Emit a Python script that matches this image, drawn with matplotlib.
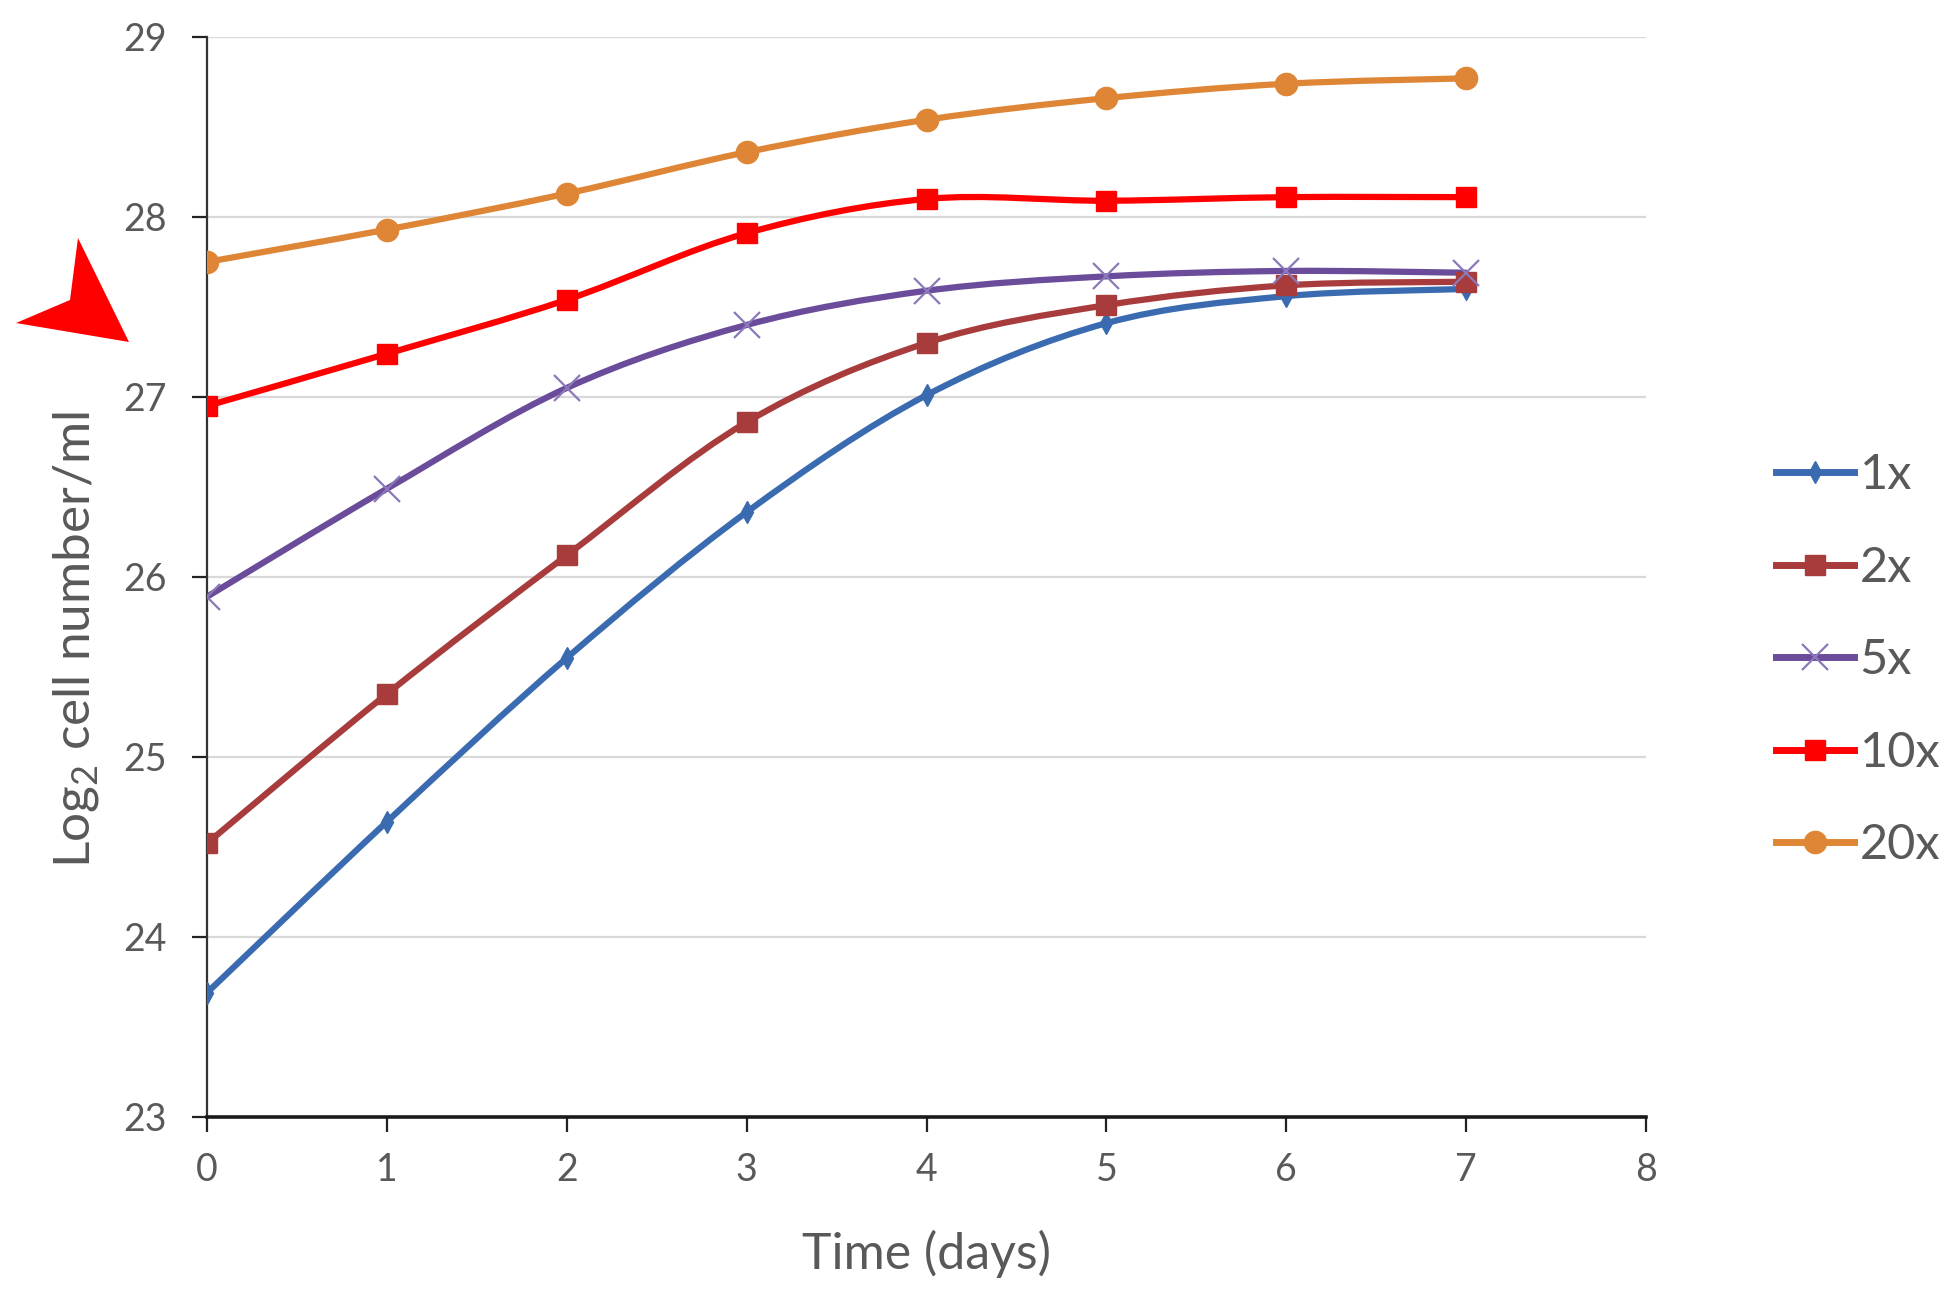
"""
Growth curves: log2 cell number per ml over 7 days for five dilutions
"""

import numpy as np
import matplotlib

matplotlib.use("Agg")
import matplotlib.pyplot as plt
from matplotlib.path import Path
from matplotlib.patches import PathPatch, Polygon
from matplotlib.lines import Line2D

plt.rcParams["font.family"] = ["Lato", "DejaVu Sans"]
plt.rcParams["mathtext.fontset"] = "custom"
plt.rcParams["mathtext.rm"] = "Lato"

# Data
days = [0, 1, 2, 3, 4, 5, 6, 7]
series_names = ["1x", "2x", "5x", "10x", "20x"]
vals_1x = [23.69, 24.64, 25.55, 26.36, 27.01, 27.41, 27.56, 27.60]
vals_2x = [24.52, 25.35, 26.12, 26.86, 27.30, 27.51, 27.62, 27.64]
vals_5x = [25.89, 26.49, 27.05, 27.40, 27.59, 27.67, 27.70, 27.69]
vals_10x = [26.95, 27.24, 27.54, 27.91, 28.10, 28.09, 28.11, 28.11]
vals_20x = [27.75, 27.93, 28.13, 28.36, 28.54, 28.66, 28.74, 28.77]
x_ticks = [0, 1, 2, 3, 4, 5, 6, 7, 8]
y_ticks = [23, 24, 25, 26, 27, 28, 29]

all_vals = [vals_1x, vals_2x, vals_5x, vals_10x, vals_20x]

# Styling
colors = ["#3a6bb0", "#a83c3c", "#6b4c9a", "#ff0000", "#de8636"]
markers = ["d", "s", "x", "s", "o"]
msizes = [11, 15, 19, 15, 16]
TEXT_GREY = "#595959"


def smooth_path(xs, ys):
    """Excel-like smoothed line: Catmull-Rom segments as cubic Beziers"""
    pts = np.column_stack([xs, ys]).astype(float)
    n = len(pts)
    verts = [pts[0]]
    codes = [Path.MOVETO]
    for i in range(n - 1):
        p0 = pts[i - 1] if i > 0 else pts[i]
        p1 = pts[i]
        p2 = pts[i + 1]
        p3 = pts[i + 2] if i + 2 < n else pts[i + 1]
        c1 = p1 + (p2 - p0) / 6.0
        c2 = p2 - (p3 - p1) / 6.0
        verts += [c1, c2, p2]
        codes += [Path.CURVE4] * 3
    return Path(verts, codes)


fig = plt.figure(figsize=(19.51, 12.92), dpi=100)
ax = fig.add_axes([0.1061, 0.1355, 0.8437 - 0.1061, 0.9714 - 0.1355])

handles = []
for name, vals, c, m, ms in zip(series_names, all_vals, colors, markers, msizes):
    ax.add_patch(
        PathPatch(smooth_path(days, vals), facecolor="none", edgecolor=c,
                  lw=4.5, capstyle="round", joinstyle="round", zorder=3)
    )
    if m == "x":
        mec, mew = "#8a78b8", 1.6
    else:
        mec, mew = c, 1.0
    ax.plot(days, vals, linestyle="none", marker=m, markersize=ms,
            color=c, markeredgecolor=mec, markeredgewidth=mew, zorder=4)
    handles.append(
        Line2D([], [], color=c, lw=5, marker=m, markersize=ms,
               markeredgecolor=mec, markeredgewidth=mew)
    )

ax.set_xlim(0, 8)
ax.set_ylim(23, 29)
ax.set_xticks(x_ticks)
ax.set_yticks(y_ticks)
ax.grid(axis="y", color="#d9d9d9", lw=1.6, zorder=0)
ax.set_axisbelow(True)

for side in ["top", "right"]:
    ax.spines[side].set_visible(False)
ax.spines["left"].set_color("#333333")
ax.spines["left"].set_linewidth(1.6)
ax.spines["bottom"].set_color("#1a1a1a")
ax.spines["bottom"].set_linewidth(2.6)

ax.tick_params(axis="both", direction="out", length=11, width=1.6,
               color="#222222", labelsize=27, labelcolor=TEXT_GREY)
ax.tick_params(axis="x", pad=14)
ax.tick_params(axis="y", pad=18)

ax.set_xlabel("Time (days)", fontsize=36, color=TEXT_GREY, labelpad=30)
fig.text(0.039, 0.505, "Log$_\\mathregular{2}$ cell number/ml", rotation=90,
         ha="center", va="center", fontsize=37, color=TEXT_GREY)

fig.legend(handles, series_names, loc="center left",
           bbox_to_anchor=(1776 / 1951, 0.489), frameon=False,
           fontsize=35, labelcolor=TEXT_GREY, handlelength=1.6,
           handletextpad=0.12, labelspacing=1.0, borderpad=0,
           borderaxespad=0)

# red arrowhead pointing at the chart (figure fractions)
arrow = Polygon(
    [(78 / 1951, 1 - 238 / 1292), (129 / 1951, 1 - 342 / 1292),
     (16 / 1951, 1 - 323 / 1292), (70 / 1951, 1 - 300 / 1292)],
    closed=True, facecolor="#ff0000", edgecolor="none",
    transform=fig.transFigure,
)
fig.patches.append(arrow)

fig.savefig("out.png", dpi=100, facecolor="white")
